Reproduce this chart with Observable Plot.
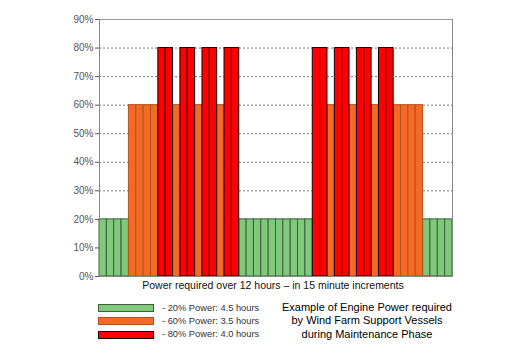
<!DOCTYPE html>
<html><head><meta charset="utf-8">
<script src="https://cdn.jsdelivr.net/npm/d3@7"></script>
<script src="https://cdn.jsdelivr.net/npm/@observablehq/plot@0.6"></script>
<style>
body{margin:0;background:#fff;font-family:"Liberation Sans",Arial,Helvetica,sans-serif;}
#wrap{position:relative;width:525px;height:354px;overflow:hidden;background:#fff}
#chart{position:absolute;left:0;top:0}
#xcap{position:absolute;left:0;top:279px;width:546px;text-align:center;font-size:10.5px;color:#111;white-space:nowrap}
.sw{position:absolute;left:98px;width:56px;height:8px;box-sizing:border-box}
.lt{position:absolute;left:162px;font-size:9.3px;color:#333;white-space:nowrap;line-height:11px}
#note{position:absolute;left:267px;top:301px;width:200px;text-align:center;font-size:11px;line-height:13.4px;color:#000}
</style></head><body>
<div id="wrap"><div id="chart"></div><div id="xcap"></div><div id="legend"></div><div id="note"></div></div>
<script>
// power level (%) for each 15-minute slot over 12 hours (48 slots)
const levels = [
  20,20,20,20, 60,60,60,60, 80,80, 60, 80,80, 60, 80,80, 60, 80,80,
  20,20,20,20,20,20,20,20,20,20,
  80,80, 60, 80,80, 60, 80,80, 60, 80,80, 60,60,60,60, 20,20,20,20
];
const categories = [20, 60, 80];
const fills = ["#7fc97a", "#f26b24", "#ff0000"];
const strokes = ["#3e5e3e", "#b9501a", "#1a0000"];
const legendLabels = ["- 20% Power: 4.5 hours", "- 60% Power: 3.5 hours", "- 80% Power: 4.0 hours"];
const yTicks = [0,10,20,30,40,50,60,70,80,90];
const gridTicks = [10,20,30,40,50,60,70,80];
const xCaption = "Power required over 12 hours \u2013 in 15 minute increments";
const noteLines = ["Example of Engine Power required", "by Wind Farm Support Vessels", "during Maintenance Phase"];

const data = levels.map((v, i) => ({slot: i, level: v}));

const plot = Plot.plot({
  width: 525, height: 290,
  marginLeft: 99, marginRight: 73, marginTop: 19, marginBottom: 14,
  style: {fontFamily: '"Liberation Sans", Arial, sans-serif', fontSize: "10px", background: "transparent"},
  x: {type: "band", domain: d3.range(levels.length), padding: 0, round: false, axis: null},
  y: {domain: [0, 90], axis: null},
  marks: [
    Plot.ruleY(gridTicks, {stroke: "#777", strokeDasharray: "2,2"}),
    ...categories.map((c, i) => Plot.barY(data.filter(d => d.level === c), {
      x: "slot", y: "level", fill: fills[i], stroke: strokes[i], strokeWidth: 1, inset: 0
    })),
    Plot.frame({stroke: "#888"}),
    Plot.ruleY([90], {stroke: "#999"}),
    Plot.axisY(yTicks, {tickSize: 4, tickPadding: 2, tickFormat: d => d + "%", color: "#555", label: null})
  ]
});
document.getElementById("chart").appendChild(plot);

document.getElementById("xcap").textContent = xCaption;
const legend = document.getElementById("legend");
categories.forEach((c, i) => {
  const top = 304 + i * 13.3;
  const sw = document.createElement("div");
  sw.className = "sw";
  sw.style.top = top + "px";
  sw.style.background = fills[i];
  sw.style.border = "1px solid " + strokes[i];
  legend.appendChild(sw);
  const t = document.createElement("div");
  t.className = "lt";
  t.style.top = (top - 1.5) + "px";
  t.textContent = legendLabels[i];
  legend.appendChild(t);
});
document.getElementById("note").innerHTML = noteLines.join("<br>");
</script>
</body></html>
